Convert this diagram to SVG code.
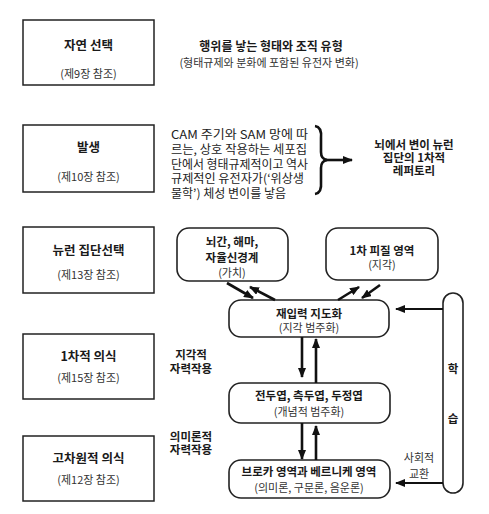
<svg xmlns="http://www.w3.org/2000/svg" width="489" height="514" viewBox="0 0 489 514">
<style>
text{font-family:"Noto Sans CJK KR","Noto Sans",sans-serif;fill:#1a1a1a;dominant-baseline:central}
.t{font-size:12.5px;font-weight:bold;text-anchor:middle}
.s{font-size:11px;text-anchor:middle;fill:#333}
.b{font-size:11.5px;font-weight:bold;text-anchor:middle}
.r{font-size:11px;text-anchor:middle;fill:#333}
.c{font-size:12px;fill:#222}
.box{fill:#fff;stroke:#222;stroke-width:1.5}
.rb{fill:#fff;stroke:#222;stroke-width:1.6}
.ar{stroke:#111;stroke-width:2.6;fill:none}
.ah{stroke:#111;stroke-width:2;fill:none}
</style>
<defs>
<marker id="h" viewBox="0 0 10 8" refX="9" refY="4" markerWidth="10" markerHeight="8" markerUnits="userSpaceOnUse" orient="auto">
<path d="M0,0 L10,4 L0,8 Z" fill="#111"/>
</marker>
</defs>
<rect width="489" height="514" fill="#fff"/>
<g id="n1"><rect class="box" x="23" y="20" width="131" height="65"/><text class="t" x="88.5" y="44">자연 선택</text><text class="s" x="88.5" y="73">(제9장 참조)</text></g>
<g id="n2"><rect class="box" x="23" y="125" width="131" height="67"/><text class="t" x="88.5" y="146">발생</text><text class="s" x="88.5" y="176">(제10장 참조)</text></g>
<g id="n3"><rect class="box" x="23" y="227" width="131" height="66"/><text class="t" x="88.5" y="249">뉴런 집단선택</text><text class="s" x="88.5" y="274">(제13장 참조)</text></g>
<g id="n4"><rect class="box" x="23" y="334" width="131" height="65"/><text class="t" x="88.5" y="355">1차적 의식</text><text class="s" x="88.5" y="377">(제15장 참조)</text></g>
<g id="n5"><rect class="box" x="23" y="436" width="131" height="65"/><text class="t" x="88.5" y="457">고차원적 의식</text><text class="s" x="88.5" y="479">(제12장 참조)</text></g>
<g id="txt1"><text class="b" x="271" y="45" style="font-size:12px">행위를 낳는 형태와 조직 유형</text><text class="r" x="269" y="62">(형태규제와 분화에 포함된 유전자 변화)</text></g>
<g id="txt2">
<text class="c" x="171" y="133" textLength="137" lengthAdjust="spacingAndGlyphs">CAM 주기와 SAM 망에 따</text>
<text class="c" x="171" y="148" textLength="136" lengthAdjust="spacingAndGlyphs">르는, 상호 작용하는 세포집</text>
<text class="c" x="171" y="163" textLength="137" lengthAdjust="spacingAndGlyphs">단에서 형태규제적이고 역사</text>
<text class="c" x="171" y="177" textLength="133" lengthAdjust="spacingAndGlyphs">규제적인 유전자가(‘위상생</text>
<text class="c" x="171" y="192" textLength="115" lengthAdjust="spacingAndGlyphs">물학’) 체성 변이를 낳음</text>
</g>
<g id="txt3"><text class="b" x="414" y="144">뇌에서 변이 뉴런</text><text class="b" x="414" y="157">집단의 1차적</text><text class="b" x="414" y="170">레퍼토리</text></g>
<g id="rA"><rect class="rb" x="177" y="228" width="111" height="53" rx="12"/><text class="b" x="232" y="241">뇌간, 해마,</text><text class="b" x="232" y="257">자율신경계</text><text class="r" x="232" y="272">(가치)</text></g>
<g id="rB"><rect class="rb" x="326" y="228" width="112" height="52" rx="12"/><text class="b" x="382" y="250">1차 피질 영역</text><text class="r" x="382" y="264">(지각)</text></g>
<g id="rC"><rect class="rb" x="229" y="300" width="160" height="37" rx="12"/><text class="b" x="309" y="313">재입력 지도화</text><text class="r" x="309" y="327">(지각 범주화)</text></g>
<g id="rD"><rect class="rb" x="229" y="383" width="161" height="40" rx="12"/><text class="b" x="309" y="395">전두엽, 측두엽, 두정엽</text><text class="r" x="309" y="411">(개념적 범주화)</text></g>
<g id="rE"><rect class="rb" x="229" y="460" width="161" height="38" rx="12"/><text class="b" x="309" y="471">브로카 영역과 베르니케 영역</text><text class="r" x="309" y="487">(의미론, 구문론, 음운론)</text></g>
<g id="learn"><rect class="rb" x="443" y="293" width="20" height="200" rx="10"/><text class="b" x="453" y="368">학</text><text class="b" x="453" y="418">습</text></g>
<g id="labels">
<text class="b" x="191" y="354">지각적</text><text class="b" x="191" y="368">자력작용</text>
<text class="b" x="191" y="436">의미론적</text><text class="b" x="191" y="449">자력작용</text>
<text class="r" x="419" y="457">사회적</text><text class="r" x="419" y="473">교환</text>
</g>
<g id="connectors">
<path d="M315,126 Q322,127 321,138 L321,152 Q321,159 327,160 Q321,161 321,168 L321,182 Q322,193 315,194" class="ar"/>
<line class="ar" x1="325" y1="160" x2="352" y2="160" marker-end="url(#h)"/>
<line class="ar" x1="227" y1="283" x2="253" y2="298" marker-end="url(#h)"/>
<line class="ar" x1="275" y1="300" x2="250" y2="287" marker-end="url(#h)"/>
<line class="ar" x1="338" y1="300" x2="359" y2="287" marker-end="url(#h)"/>
<line class="ar" x1="380" y1="285" x2="362" y2="298" marker-end="url(#h)"/>
<line class="ar" x1="302" y1="337" x2="302" y2="377" marker-end="url(#h)"/>
<line class="ar" x1="316" y1="383" x2="316" y2="339" marker-end="url(#h)"/>
<line class="ar" x1="302" y1="423" x2="302" y2="459" marker-end="url(#h)"/>
<line class="ar" x1="316" y1="460" x2="316" y2="426" marker-end="url(#h)"/>
<line class="ah" x1="443" y1="309" x2="396" y2="309" marker-end="url(#h)"/>
<line class="ah" x1="443" y1="483" x2="396" y2="483" marker-end="url(#h)"/>
</g>
</svg>
